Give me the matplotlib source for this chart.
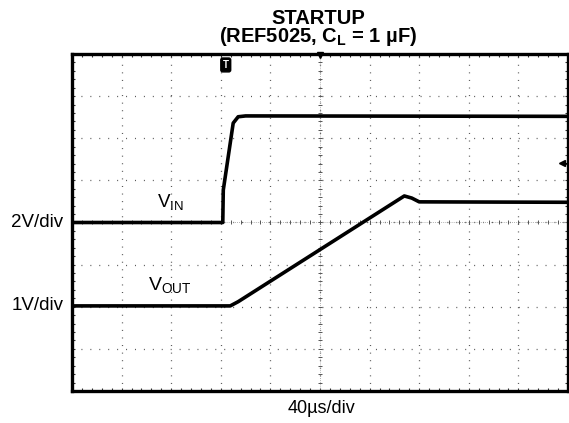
import numpy as np
import matplotlib.pyplot as plt
from matplotlib.ticker import MultipleLocator

plt.rcParams['font.family'] = ['Liberation Sans', 'DejaVu Sans']
plt.rcParams['mathtext.fontset'] = 'custom'
plt.rcParams['mathtext.rm'] = 'Liberation Sans'
plt.rcParams['mathtext.it'] = 'Liberation Sans:italic'
plt.rcParams['mathtext.bf'] = 'Liberation Sans:bold'

# screen positions in divisions (10 x 8 graticule)
vin_x = [0.0, 3.04, 3.05, 3.25, 3.35, 3.5, 10.0]
vin_y = [4.0, 4.0, 4.77, 6.36, 6.51, 6.53, 6.52]

vout_x = [0.0, 3.19, 3.35, 6.70, 6.85, 7.0, 10.0]
vout_y = [2.02, 2.02, 2.12, 4.63, 4.58, 4.49, 4.48]

title = "STARTUP\n" + r"(REF5025, C$_{\mathbf{L}}$ = 1 µF)"
ch_labels = ["2V/div", "1V/div"]
ch_levels = [4.0, 2.02]
x_label = "40µs/div"


def draw_graticule(ax):
    ax.set_xlim(0, 10)
    ax.set_ylim(0, 8)
    ax.xaxis.set_major_locator(MultipleLocator(1))
    ax.yaxis.set_major_locator(MultipleLocator(1))
    ax.xaxis.set_minor_locator(MultipleLocator(0.2))
    ax.yaxis.set_minor_locator(MultipleLocator(0.2))
    ax.tick_params(which='both', direction='in', length=2.5, width=0.8,
                   top=True, right=True, labelbottom=False, labelleft=False,
                   color='#333333')
    for sp in ax.spines.values():
        sp.set_linewidth(2.4)
    ax.xaxis.grid(True, which='major', color='#555555', lw=0.9,
                  ls=(0, (0.8, 5.26)))
    ax.yaxis.grid(True, which='major', color='#555555', lw=0.9,
                  ls=(0, (0.8, 6.34)))
    ax.set_axisbelow(True)
    # centre cross with sub-division marks
    ax.axvline(5, color='#999999', lw=0.6, ls=(0, (1, 1.5)), zorder=1)
    ax.axhline(4, color='#999999', lw=0.6, ls=(0, (1, 1.5)), zorder=1)
    sub = np.arange(0, 10.01, 0.2)
    ax.plot(sub, np.full(len(sub), 4.0), ls='none', marker='|', ms=3,
            mew=0.7, color='#555555', zorder=1)
    sub = np.arange(0, 8.01, 0.2)
    ax.plot(np.full(len(sub), 5.0), sub, ls='none', marker='_', ms=3,
            mew=0.7, color='#555555', zorder=1)


def main():
    fig = plt.figure(figsize=(5.69, 4.23), dpi=100)
    ax = fig.add_axes([72 / 569, 32 / 423, 496 / 569, 337 / 423])
    draw_graticule(ax)

    ax.plot(vin_x, vin_y, color='black', lw=2.6, zorder=3)
    ax.plot(vout_x, vout_y, color='black', lw=2.6, zorder=3)

    ax.text(1.98, 4.26, r"V$_{\mathrm{IN}}$", fontsize=13.5, ha='center',
            va='bottom')
    ax.text(1.98, 2.28, r"V$_{\mathrm{OUT}}$", fontsize=14, ha='center',
            va='bottom')

    # trigger marker and level markers
    ax.text(3.1, 7.74, "T", color='white', fontsize=7, fontweight='bold',
            ha='center', va='center',
            bbox=dict(boxstyle='round,pad=0.2', fc='black', ec='black'))
    ax.plot([5], [7.97], marker='v', ms=4, color='black', clip_on=False)
    ax.plot([9.88], [5.42], marker='<', ms=5, color='black', clip_on=False)
    ax.plot([9.9, 10.0], [5.42, 5.42], color='black', lw=0.8)

    for lab, lev in zip(ch_labels, ch_levels):
        ax.text(-0.17, lev, lab, fontsize=13.5, ha='right', va='center')

    fig.text(318 / 569, 1 - 42 / 423, title, fontsize=14.5,
             fontweight='bold', ha='center', va='baseline',
             linespacing=0.85, multialignment='center')
    fig.text(321 / 569, 1 - 408 / 423, x_label, fontsize=13,
             ha='center', va='center')

    fig.savefig("out.png", dpi=100)


if __name__ == "__main__":
    main()
